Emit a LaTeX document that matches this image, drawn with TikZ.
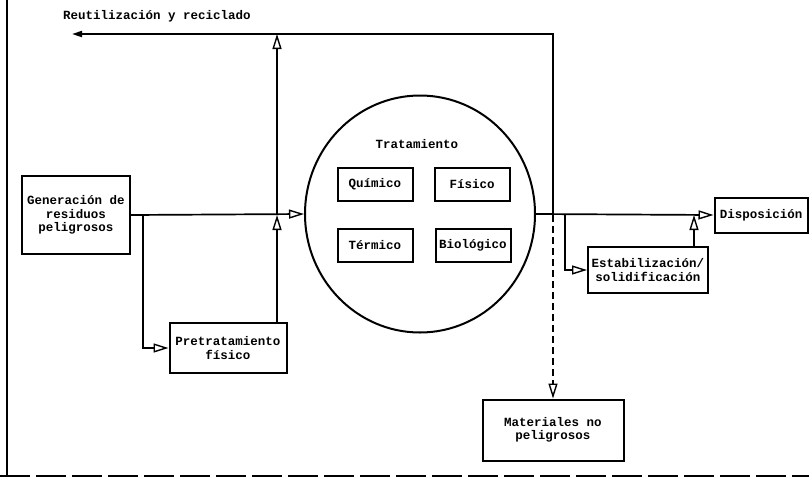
\documentclass[tikz,border=0pt]{standalone}
\usepackage{fontspec}
\setmonofont{Liberation Mono}
\usetikzlibrary{arrows.meta,shapes.geometric}

\begin{document}
\begin{tikzpicture}[x=1pt,y=-1pt,>={Triangle[open,length=15pt,width=9pt,line width=1.4pt]},
    texto/.style={font=\ttfamily\bfseries\fontsize{12.5}{13.5}\selectfont,align=center,inner sep=1pt},
    caja/.style={texto,draw,line width=2pt,inner sep=0pt},
    linea/.style={line width=1.7pt}]
  \useasboundingbox (0,0) rectangle (809,480);
  % marco del escaneo
  \draw[line width=2pt] (7,0) -- (7,476);
  \draw[line width=2pt,dash pattern=on 30pt off 6pt] (0,476) -- (809,476);
  % nodos
  \node[caja,minimum width=108pt,minimum height=78pt] (gen) at (76,215) {Generación de\\residuos\\peligrosos};
  \node[caja,minimum width=117pt,minimum height=50pt] (pre) at (228,348) {Pretratamiento\\físico};
  \node[draw,ellipse,line width=2pt,minimum width=230pt,minimum height=237pt] (trat) at (420,214) {};
  \node[texto] (tratlbl) at (417,144) {Tratamiento};
  \foreach \nombre/\x/\y/\txt in {qui/375/184/Químico,fis/472/184/Físico,ter/375/245/Térmico,bio/473/245/Biológico}
    \node[caja,minimum width=75pt,minimum height=33pt] (\nombre) at (\x,\y) {\txt};
  \node[caja,minimum width=120pt,minimum height=46pt] (est) at (648,270) {Estabilización/\\solidificación};
  \node[caja,minimum width=93pt,minimum height=35pt] (dis) at (761,215) {Disposición};
  \node[caja,minimum width=141pt,minimum height=61pt] (mat) at (553,430) {Materiales no\\peligrosos};
  \node[texto] (reulbl) at (157,16) {Reutilización y reciclado};
  % puntos de union
  \coordinate (j1) at (277,215);
  \coordinate (j2) at (553,215);
  \coordinate (b1) at (143,215);
  \coordinate (b2) at (565,215);
  \coordinate (reu) at (72,34);
  % conexiones
  \draw[linea,->] (gen.east) -- (trat.west);
  \draw[linea,->] (b1) |- (pre.west);
  \draw[linea,->] (pre.north -| j1) -- (j1);
  \draw[linea,->] (j1) -- (j1 |- reu);
  \draw[linea,-{Triangle[length=10pt,width=6pt]}] (j2) |- (reu);
  \draw[linea,->] (trat.east) -- (dis.west);
  \draw[linea,->] (b2) |- (est.west);
  \draw[linea,->] ([xshift=-15pt]est.north east) -- ([xshift=-15pt]est.north east |- j2);
  \draw[linea,dash pattern=on 7pt off 4pt,->] (j2) -- (mat.north);
\end{tikzpicture}
\end{document}
